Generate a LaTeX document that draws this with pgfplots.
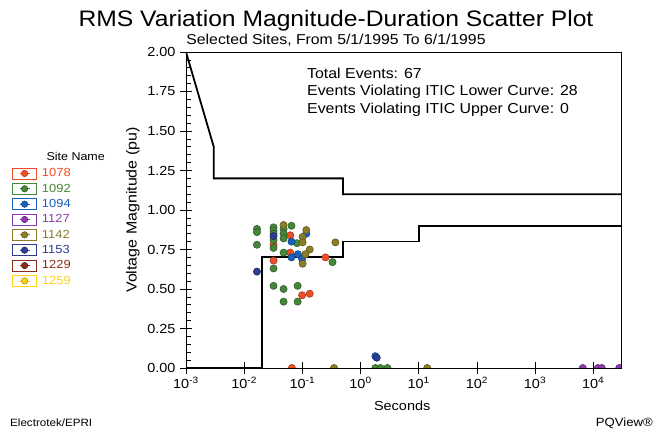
\documentclass[border=0pt]{standalone}
\usepackage{pgfplots}
\pgfplotsset{compat=1.18}
\usepackage{fontspec}
\setmainfont{Liberation Sans}[FakeStretch=1.1]

% site colours
\definecolor{c1078}{RGB}{240,78,38}
\definecolor{c1092}{RGB}{70,135,58}
\definecolor{c1094}{RGB}{25,95,190}
\definecolor{c1127}{RGB}{140,60,170}
\definecolor{c1142}{RGB}{140,125,40}
\definecolor{c1153}{RGB}{45,60,145}
\definecolor{c1229}{RGB}{140,45,30}
\definecolor{c1259}{RGB}{255,210,20}

\pgfplotsset{
  site/.style={only marks, mark=*, color=#1, mark size=3.6bp,
    mark options={fill=#1, draw=#1!70!black, line width=0.6bp}},
}

\begin{document}
\begin{tikzpicture}
\useasboundingbox (-186bp,-67bp) rectangle (479bp,368bp);
\begin{axis}[
  at={(0,0)}, anchor=south west,
  scale only axis, width=435bp, height=316bp,
  xmode=log, xmin=1e-3, xmax=3e4, ymin=0, ymax=2,
  clip marker paths=true,
  axis line style={line width=0.8bp},
  tick pos=left,
  tick align=center,
  major tick length=12bp,
  minor tick length=5bp,
  every minor y tick/.style={xshift=2.5bp},
  tick style={black, line width=0.7bp},
  xtick={1e-3,1e-2,1e-1,1,1e1,1e2,1e3,1e4},
  xticklabels={10\textsuperscript{-3},10\textsuperscript{-2},10\textsuperscript{-1},10\textsuperscript{0},10\textsuperscript{1},10\textsuperscript{2},10\textsuperscript{3},10\textsuperscript{4}},
  xminorticks=false,
  ytick={0,0.25,...,2},
  minor y tick num=4,
  yticklabel style={/pgf/number format/fixed, /pgf/number format/fixed zerofill,
    /pgf/number format/precision=2, /pgf/number format/assume math mode=true},
  ticklabel style={font=\fontsize{13.2}{15}\selectfont},
  xticklabel style={yshift=0bp},
  yticklabel style={xshift=-1bp},
  xlabel={Seconds}, ylabel={Voltage Magnitude (pu)},
  x label style={font=\fontsize{13.2}{15}\selectfont,
    at={(axis description cs:0.497,-0.120)}, anchor=center},
  y label style={font=\fontsize{14.6}{16}\selectfont,
    at={(axis description cs:-0.122,0.50)}, anchor=center},
  legend style={at={(axis description cs:-0.400,0.638)}, anchor=north west,
    draw=none, fill=none, inner sep=0pt, row sep=1.65bp, column sep=3bp,
    font=\fontsize{11.8}{12}\selectfont,
    nodes={inner sep=2bp}},
  legend cell align=left,
  legend image code/.code={
    \draw[#1, fill=white, line width=0.8bp] (0bp,-5.5bp) rectangle (24bp,5.5bp);
    \draw[#1, line width=0.8bp] (7bp,0bp) -- (17bp,0bp);
    \draw[#1, mark size=3.2bp] plot coordinates {(12bp,0bp)};
  },
]

% ITIC curves
\addplot[black, line width=1.8bp, forget plot] coordinates {
  (0.001,2.0) (0.003,1.4) (0.003,1.2) (0.5,1.2) (0.5,1.1) (3e4,1.1)};
\addplot[black, line width=1.8bp, forget plot] coordinates {
  (0.001,0) (0.02,0) (0.02,0.7) (0.5,0.7) (0.5,0.8) (10,0.8) (10,0.9) (3e4,0.9)};

% events by site
\addplot[site=c1078] coordinates {
  (0.032,0.78) (0.032,0.68) (0.062,0.84) (0.062,0.73) (0.099,0.46)
  (0.134,0.47) (0.25,0.70) (0.066,0)};
\addlegendentry{\textcolor{c1078}{1078}}

\addplot[site=c1092] coordinates {
  (0.0166,0.88) (0.0166,0.86) (0.0166,0.78)
  (0.032,0.89) (0.032,0.87) (0.032,0.85) (0.032,0.81) (0.032,0.76) (0.032,0.63) (0.032,0.52)
  (0.0476,0.88) (0.0476,0.85) (0.0476,0.82) (0.0476,0.73) (0.0476,0.50) (0.0476,0.42)
  (0.065,0.90) (0.081,0.79) (0.083,0.52) (0.083,0.42) (0.33,0.67)
  (1.8,0) (2.2,0) (2.9,0)};
\addlegendentry{\textcolor{c1092}{1092}}

\addplot[site=c1094] coordinates {
  (0.065,0.80) (0.065,0.70) (0.084,0.72) (0.117,0.85) (0.099,0.69) (1.8,0.075)};
\addlegendentry{\textcolor{c1094}{1094}}

\addplot[site=c1127] coordinates {
  (6600,0) (12000,0) (14000,0) (28000,0)};
\addlegendentry{\textcolor{c1127}{1127}}

\addplot[site=c1142] coordinates {
  (0.0476,0.905) (0.117,0.873) (0.101,0.83) (0.101,0.795) (0.134,0.75)
  (0.113,0.72) (0.101,0.66) (0.37,0.795) (0.35,0) (14,0)};
\addlegendentry{\textcolor{c1142}{1142}}

\addplot[site=c1153] coordinates {
  (0.0166,0.61) (0.032,0.835) (1.9,0.065)};
\addlegendentry{\textcolor{c1153}{1153}}

\addlegendimage{site=c1229}
\addlegendentry{\textcolor{c1229}{1229}}
\addlegendimage{site=c1259}
\addlegendentry{\textcolor{c1259}{1259}}

\end{axis}

% titles and notes
\node[anchor=base, inner sep=0pt, font=\fontsize{22.5}{24}\selectfont] at (150bp,341bp) {RMS Variation Magnitude-Duration Scatter Plot};
\node[anchor=base, inner sep=0pt, font=\fontsize{14.4}{16}\selectfont] at (150bp,323bp) {Selected Sites, From 5/1/1995 To 6/1/1995};
\begin{scope}[every node/.style={anchor=base west, inner sep=0pt, font=\fontsize{14.5}{16}\selectfont}]
\node at (121bp,289.5bp) {Total Events: 67};
\node at (121bp,272bp) {Events Violating ITIC Lower Curve: 28};
\node at (121bp,254.5bp) {Events Violating ITIC Upper Curve: 0};
\end{scope}
\node[font=\fontsize{11.4}{13}\selectfont, anchor=west] at (-143bp,212bp) {Site Name};
\node[font=\fontsize{10.6}{13}\selectfont, anchor=west, inner sep=0pt] at (-176bp,-55bp) {Electrotek/EPRI};
\node[font=\fontsize{12}{14}\selectfont, anchor=east, inner sep=0pt] at (467bp,-55bp) {PQView®};
\end{tikzpicture}
\end{document}
